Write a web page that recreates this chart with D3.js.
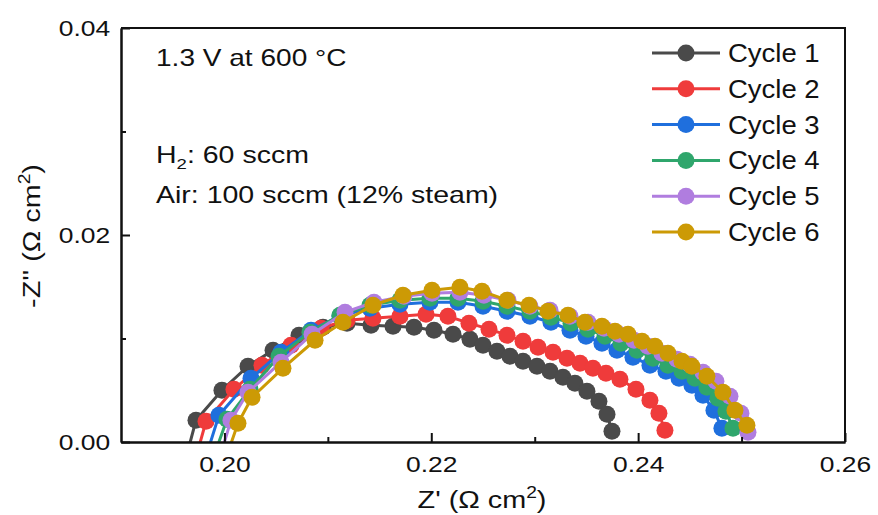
<!DOCTYPE html>
<html>
<head>
<meta charset="utf-8">
<script src="https://cdn.jsdelivr.net/npm/d3@7"></script>
<style>
  body { margin: 0; background: #fff; }
  text { font-family: "Liberation Sans", Arial, sans-serif; fill: #111; }
</style>
</head>
<body>
<svg id="chart" width="878" height="515"></svg>
<script>
// Nyquist data: [Z', -Z''] in ohm cm2 (first point sits just under the axis, clipped)
const cycle1 = [[0.19648,-0.0008],[0.19725,0.00210],[0.19976,0.00500],[0.20228,0.00732],[0.20470,0.00887],[0.20721,0.01032],[0.20953,0.01109],[0.21185,0.01148],[0.21417,0.01128],[0.21630,0.01119],[0.21833,0.01109],[0.22026,0.01080],[0.22210,0.01041],[0.22374,0.00993],[0.22500,0.00935],[0.22635,0.00877],[0.22761,0.00829],[0.22887,0.00780],[0.23022,0.00732],[0.23148,0.00684],[0.23273,0.00626],[0.23389,0.00568],[0.23505,0.00490],[0.23621,0.00393],[0.23699,0.00268],[0.23747,0.00103]]
const cycle2 = [[0.19744,-0.0008],[0.19822,0.00200],[0.20092,0.00510],[0.20363,0.00742],[0.20644,0.00935],[0.20934,0.01099],[0.21185,0.01177],[0.21436,0.01196],[0.21697,0.01215],[0.21949,0.01235],[0.22161,0.01215],[0.22364,0.01148],[0.22558,0.01090],[0.22732,0.01032],[0.22887,0.00974],[0.23032,0.00916],[0.23177,0.00867],[0.23312,0.00809],[0.23438,0.00761],[0.23563,0.00713],[0.23689,0.00664],[0.23824,0.00606],[0.23979,0.00510],[0.24114,0.00403],[0.24201,0.00277],[0.24259,0.00113]]
const cycle3 = [[0.19841,-0.0008],[0.19947,0.00258],[0.20257,0.00616],[0.20547,0.00867],[0.20837,0.01080],[0.21117,0.01215],[0.21407,0.01293],[0.21697,0.01331],[0.21987,0.01351],[0.22258,0.01351],[0.22500,0.01312],[0.22732,0.01264],[0.22954,0.01215],[0.23157,0.01157],[0.23341,0.01080],[0.23496,0.01022],[0.23650,0.00954],[0.23795,0.00887],[0.23950,0.00819],[0.24114,0.00742],[0.24269,0.00684],[0.24395,0.00616],[0.24520,0.00548],[0.24627,0.00451],[0.24733,0.00306],[0.24810,0.00132]]
const cycle4 = [[0.19918,-0.0008],[0.20025,0.00219],[0.20247,0.00510],[0.20528,0.00829],[0.20827,0.01061],[0.21117,0.01225],[0.21407,0.01322],[0.21697,0.01370],[0.21987,0.01389],[0.22258,0.01389],[0.22500,0.01360],[0.22732,0.01312],[0.22954,0.01264],[0.23157,0.01206],[0.23351,0.01148],[0.23515,0.01090],[0.23679,0.01022],[0.23834,0.00954],[0.23989,0.00887],[0.24143,0.00809],[0.24288,0.00742],[0.24424,0.00684],[0.24549,0.00616],[0.24665,0.00529],[0.24772,0.00422],[0.24849,0.00297],[0.24917,0.00132]]
const cycle5 = [[0.19976,-0.0008],[0.20063,0.00210],[0.20228,0.00481],[0.20547,0.00771],[0.20847,0.01041],[0.21166,0.01254],[0.21446,0.01351],[0.21736,0.01409],[0.22007,0.01438],[0.22277,0.01447],[0.22509,0.01418],[0.22742,0.01370],[0.22954,0.01312],[0.23148,0.01273],[0.23341,0.01215],[0.23515,0.01157],[0.23670,0.01099],[0.23815,0.01041],[0.23960,0.00983],[0.24095,0.00925],[0.24230,0.00858],[0.24375,0.00800],[0.24501,0.00751],[0.24627,0.00674],[0.24752,0.00587],[0.24888,0.00442],[0.24994,0.00277],[0.25062,0.00094]]
const cycle6 = [[0.20034,-0.0010],[0.20131,0.00181],[0.20267,0.00432],[0.20566,0.00713],[0.20876,0.00983],[0.21146,0.01157],[0.21436,0.01322],[0.21726,0.01418],[0.22007,0.01467],[0.22277,0.01496],[0.22490,0.01457],[0.22732,0.01370],[0.22945,0.01322],[0.23128,0.01264],[0.23322,0.01225],[0.23486,0.01157],[0.23650,0.01119],[0.23776,0.01070],[0.23902,0.01041],[0.24037,0.00974],[0.24163,0.00925],[0.24288,0.00858],[0.24424,0.00780],[0.24520,0.00732],[0.24665,0.00635],[0.24820,0.00481],[0.24936,0.00306],[0.25052,0.00161]]

const seriesNames = ['Cycle 1', 'Cycle 2', 'Cycle 3', 'Cycle 4', 'Cycle 5', 'Cycle 6']
const seriesColors = ['#4a4a4a', '#ef3b3b', '#1f6fdd', '#2fa66c', '#b07ddf', '#cc9a05']
const allSeries = [cycle1, cycle2, cycle3, cycle4, cycle5, cycle6]

const xMajor = [0.20, 0.22, 0.24, 0.26]
const xMinor = [0.21, 0.23, 0.25]
const yMajor = [0.00, 0.02, 0.04]
const yMinor = [0.01, 0.03]

const margin = { left: 121, right: 845, top: 28, bottom: 442 }
const R = 8.5

const svg = d3.select('#chart')
const x = d3.scaleLinear().domain([0.19, 0.26]).range([margin.left, margin.right])
const y = d3.scaleLinear().domain([0, 0.04]).range([margin.bottom, margin.top])

svg.append('defs').append('clipPath').attr('id', 'plotClip')
  .append('rect')
  .attr('x', margin.left).attr('y', margin.top)
  .attr('width', margin.right - margin.left).attr('height', margin.bottom - margin.top)

// series
const line = d3.line().x((d) => x(d[0])).y((d) => y(d[1]))
const plot = svg.append('g').attr('clip-path', 'url(#plotClip)')
allSeries.forEach((data, i) => {
  const g = plot.append('g')
  g.append('path')
    .datum(data)
    .attr('d', line)
    .attr('fill', 'none')
    .attr('stroke', seriesColors[i])
    .attr('stroke-width', 3)
  g.selectAll('circle')
    .data(data)
    .enter()
    .append('circle')
    .attr('cx', (d) => x(d[0]))
    .attr('cy', (d) => y(d[1]))
    .attr('r', R)
    .attr('fill', seriesColors[i])
})

// axes, ticks inward
const styleAxis = (g) => {
  g.select('.domain').attr('stroke', '#111').attr('stroke-width', 2)
  g.selectAll('.tick line').attr('stroke', '#111').attr('stroke-width', 2)
  g.selectAll('.tick text').attr('font-size', 22).attr('fill', '#111')
    .attr('font-family', '"Liberation Sans", Arial, sans-serif')
    .attr('transform', 'scale(1.2,1)')
}

svg.append('g')
  .attr('transform', `translate(0,${margin.bottom})`)
  .call(d3.axisBottom(x).tickValues(xMajor).tickSize(-9).tickSizeOuter(0).tickPadding(14).tickFormat(d3.format('.2f')))
  .call(styleAxis)
svg.append('g')
  .attr('transform', `translate(0,${margin.bottom})`)
  .call(d3.axisBottom(x).tickValues(xMinor).tickSize(-5).tickSizeOuter(0).tickFormat(''))
  .call(styleAxis)

svg.append('g')
  .attr('transform', `translate(${margin.left},0)`)
  .call(d3.axisLeft(y).tickValues(yMajor).tickSize(-9).tickSizeOuter(0).tickPadding(9).tickFormat(d3.format('.2f')))
  .call(styleAxis)
svg.append('g')
  .attr('transform', `translate(${margin.left},0)`)
  .call(d3.axisLeft(y).tickValues(yMinor).tickSize(-5).tickSizeOuter(0).tickFormat(''))
  .call(styleAxis)

// top and right frame
svg.append('path')
  .attr('d', `M${margin.left},${margin.top}H${margin.right}V${margin.bottom}`)
  .attr('fill', 'none').attr('stroke', '#111').attr('stroke-width', 2)

// axis titles
const xTitle = svg.append('text')
  .attr('transform', 'translate(482,508) scale(1.2,1)')
  .attr('text-anchor', 'middle').attr('font-size', 24)
xTitle.append('tspan').text("Z' (\u03A9 cm")
xTitle.append('tspan').text('2').attr('font-size', 16).attr('dy', -10)
xTitle.append('tspan').text(')').attr('dy', 10)

const yTitle = svg.append('text')
  .attr('transform', 'translate(40,236) rotate(-90) scale(1.2,1)')
  .attr('text-anchor', 'middle').attr('font-size', 24)
yTitle.append('tspan').text("-Z'' (\u03A9 cm")
yTitle.append('tspan').text('2').attr('font-size', 16).attr('dy', -10)
yTitle.append('tspan').text(')').attr('dy', 10)

// annotations
svg.append('text')
  .attr('transform', 'translate(156,66) scale(1.22,1)')
  .attr('font-size', 23)
  .text('1.3 V at 600 \u00B0C')
const h2 = svg.append('text')
  .attr('transform', 'translate(156,163) scale(1.24,1)')
  .attr('font-size', 23)
h2.append('tspan').text('H')
h2.append('tspan').text('2').attr('font-size', 15).attr('dy', 6)
h2.append('tspan').text(': 60 sccm').attr('dy', -6)
svg.append('text')
  .attr('transform', 'translate(156,203) scale(1.24,1)')
  .attr('font-size', 23)
  .text('Air: 100 sccm (12% steam)')

// legend
const legend = svg.append('g')
seriesNames.forEach((name, i) => {
  const ly = 53 + i * 35.8
  const row = legend.append('g').attr('transform', `translate(0,${ly})`)
  row.append('line')
    .attr('x1', 652).attr('x2', 720).attr('y1', 0).attr('y2', 0)
    .attr('stroke', seriesColors[i]).attr('stroke-width', 3)
  row.append('circle')
    .attr('cx', 686).attr('cy', 0).attr('r', R)
    .attr('fill', seriesColors[i])
  row.append('text')
    .attr('transform', 'translate(728,9) scale(1.1,1)')
    .attr('font-size', 25)
    .text(name)
})
</script>
</body>
</html>
